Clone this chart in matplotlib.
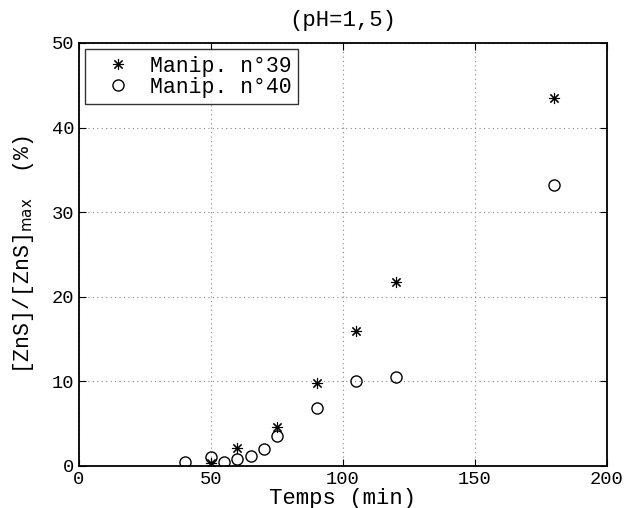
import matplotlib
matplotlib.use('Agg')
from matplotlib import pyplot as plt

# Manip. n°39
t39 = [50, 60, 75, 90, 105, 120, 180]
zns39 = [0.35, 2.1, 4.6, 9.8, 15.9, 21.7, 43.5]

# Manip. n°40
t40 = [40, 50, 55, 60, 65, 70, 75, 90, 105, 120, 180]
zns40 = [0.5, 1.05, 0.5, 0.8, 1.15, 2.0, 3.5, 6.8, 10.0, 10.5, 33.2]

xticks = [0, 50, 100, 150, 200]
yticks = [0, 10, 20, 30, 40, 50]

plt.rcParams['font.family'] = ['Liberation Mono', 'DejaVu Sans Mono']

fig = plt.figure(figsize=(6.34, 5.08), dpi=100)
ax = fig.add_axes([0.1246, 0.0827, 0.8328, 0.8327])

ax.plot(t39, zns39, linestyle='none', marker=(8, 2, 0), markersize=8,
        markeredgewidth=0.8, color='black', label='Manip. n°39')
ax.plot(t40, zns40, linestyle='none', marker='o', markersize=8,
        markerfacecolor='none', markeredgewidth=1.0, color='black',
        label='Manip. n°40')

ax.set_xlim(0, 200)
ax.set_ylim(0, 50)
ax.set_xticks(xticks)
ax.set_yticks(yticks)
ax.tick_params(direction='in', top=True, right=True, labelsize=13.5, length=5)
ax.grid(True, linestyle=(0, (1, 3)), color='#888888', linewidth=0.8)
for s in ax.spines.values():
    s.set_linewidth(1.3)

ax.set_title('(pH=1,5)', fontsize=16, pad=12)
ax.set_xlabel('Temps (min)', fontsize=16, labelpad=0)
ax.set_ylabel(r'[ZnS]/[ZnS]$_{\mathrm{max}}$  (%)', fontsize=15.5, labelpad=11)

leg = ax.legend(loc='upper left', fontsize=15.5, frameon=True, fancybox=False,
                handlelength=2.45, handletextpad=0.25, borderpad=0.3,
                labelspacing=0.0, borderaxespad=0.3)
leg.get_frame().set_edgecolor('black')
leg.get_frame().set_linewidth(1.0)

fig.savefig('out.png', dpi=100)
